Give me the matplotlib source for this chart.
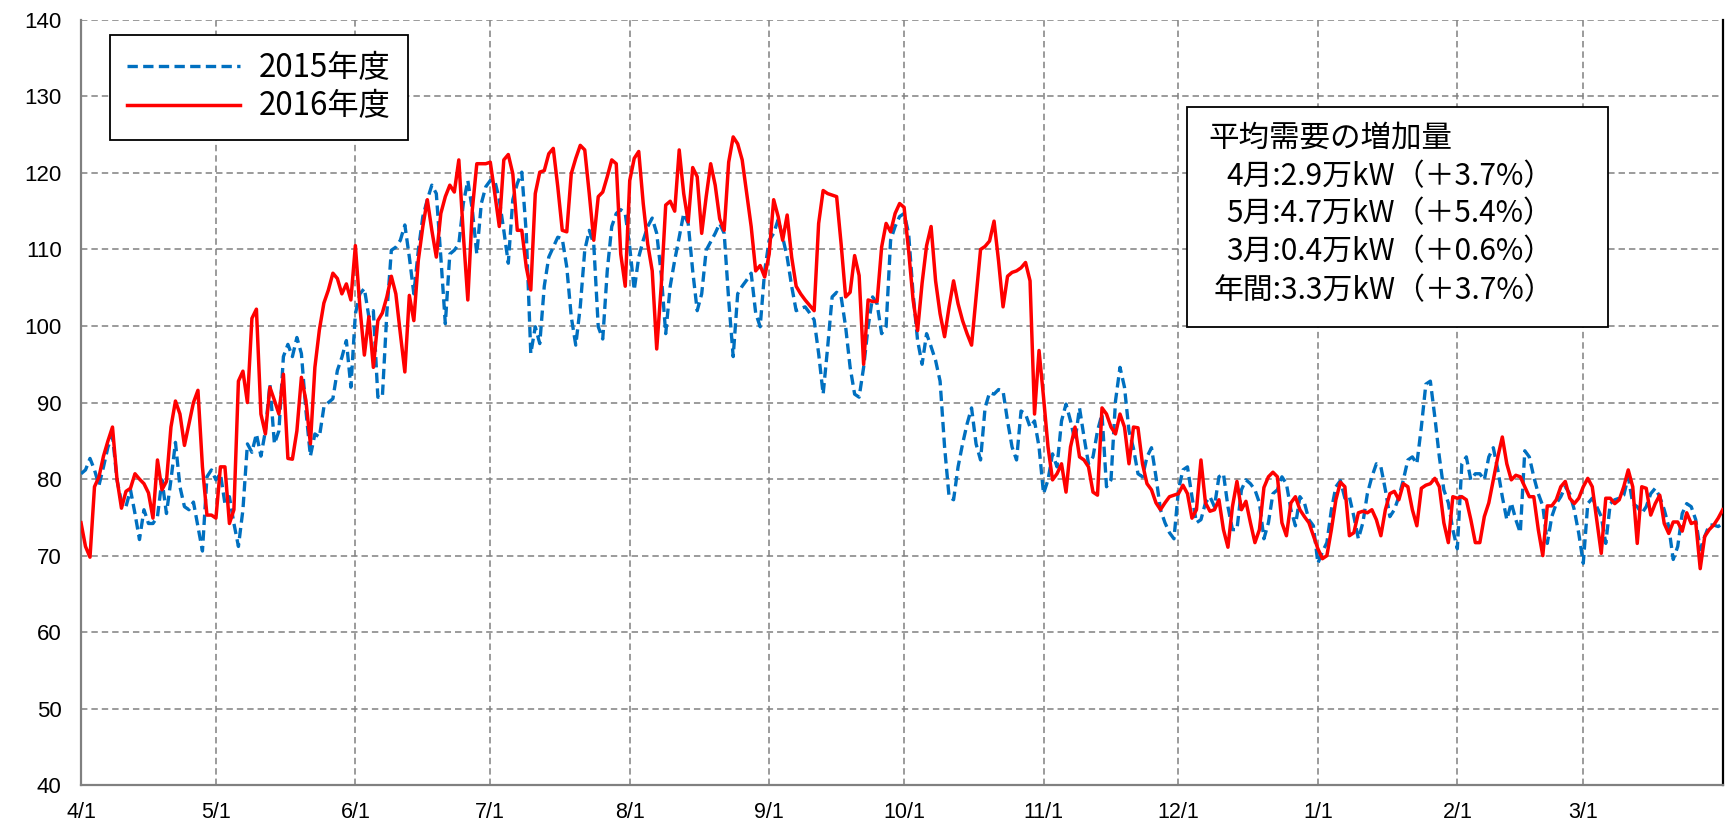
import matplotlib
matplotlib.use("Agg")
import matplotlib.pyplot as plt
from matplotlib.patches import Rectangle
import numpy as np

# ---------------- data ----------------
month_labels = ["4/1", "5/1", "6/1", "7/1", "8/1", "9/1", "10/1", "11/1", "12/1", "1/1", "2/1", "3/1"]
month_start_days = [0, 30, 61, 91, 122, 153, 183, 214, 244, 275, 306, 334]
y_ticks = [40, 50, 60, 70, 80, 90, 100, 110, 120, 130, 140]

series_2015_label = "2015年度"
series_2016_label = "2016年度"

demand_2015 = [
    80.7, 81.2, 82.7, 81.2, 79.2, 81.6, 84.2, 85.7, 79.9, 77.0,
    76.4, 78.6, 75.5, 72.1, 76.0, 74.2, 74.2, 75.1, 79.9, 75.5,
    79.9, 84.8, 79.0, 76.4, 76.0, 77.0, 73.8, 70.6, 80.3, 81.2,
    79.9, 80.7, 76.8, 77.7, 74.2, 71.2, 76.0, 84.6, 83.5, 85.9,
    83.0, 86.3, 92.4, 84.6, 86.3, 96.0, 97.6, 96.0, 98.5, 96.4,
    89.0, 83.0, 85.9, 85.5, 89.4, 90.0, 90.5, 94.2, 95.9, 98.1,
    92.0, 101.6, 104.2, 104.9, 101.2, 102.0, 90.7, 90.7, 101.7, 109.9,
    110.3, 111.2, 113.2, 109.0, 104.2, 109.9, 114.3, 116.5, 118.4, 117.3,
    109.0, 100.3, 109.4, 109.9, 110.7, 116.0, 119.0, 115.2, 109.4, 116.0,
    118.2, 119.0, 119.0, 116.5, 112.5, 108.2, 116.5, 118.6, 120.1, 112.1,
    96.4, 99.9, 97.7, 105.2, 109.0, 110.3, 111.6, 111.4, 107.7, 101.2,
    97.5, 102.5, 109.9, 112.5, 110.7, 99.9, 98.3, 107.2, 113.0, 114.7,
    115.2, 114.7, 110.3, 104.7, 109.0, 111.2, 113.0, 114.1, 112.1, 106.8,
    99.0, 105.2, 108.6, 111.6, 114.7, 113.4, 107.2, 102.0, 104.2, 109.9,
    111.0, 112.1, 113.4, 112.1, 103.4, 96.0, 104.2, 105.2, 106.0, 106.9,
    101.7, 99.9, 107.2, 111.2, 112.1, 113.9, 111.6, 109.0, 105.2, 102.0,
    102.3, 102.5, 101.7, 100.8, 96.4, 91.1, 97.2, 103.8, 104.4, 103.8,
    99.9, 94.6, 91.1, 90.7, 94.6, 99.9, 103.8, 102.9, 99.0, 99.9,
    111.2, 113.0, 114.3, 114.7, 112.1, 104.2, 98.1, 95.0, 99.0, 97.3,
    95.5, 92.8, 84.2, 77.7, 77.3, 81.6, 84.6, 87.2, 89.3, 84.6,
    82.5, 89.3, 91.3, 91.1, 91.7, 91.5, 87.6, 84.2, 82.5, 88.9,
    88.5, 86.8, 87.6, 84.2, 78.1, 79.9, 83.3, 81.6, 87.6, 89.8,
    87.6, 85.0, 89.3, 85.5, 82.0, 82.9, 86.3, 88.5, 79.0, 79.9,
    90.2, 94.6, 92.0, 86.3, 84.0, 80.7, 80.3, 82.9, 84.1, 80.3,
    76.0, 74.3, 73.0, 72.2, 78.6, 81.2, 81.6, 77.7, 74.3, 74.7,
    76.9, 77.7, 76.4, 80.3, 80.7, 76.4, 73.4, 73.4, 78.6, 79.9,
    79.4, 78.6, 76.9, 72.2, 74.3, 78.1, 78.6, 80.3, 79.4, 76.0,
    73.9, 77.7, 76.9, 74.7, 73.9, 69.0, 70.5, 71.7, 76.0, 79.0,
    79.8, 77.5, 77.7, 75.1, 72.2, 74.3, 78.1, 80.3, 82.0, 81.6,
    78.6, 75.1, 76.0, 77.7, 79.9, 82.5, 82.9, 82.0, 86.8, 92.4,
    92.8, 88.1, 82.9, 78.6, 76.9, 73.4, 70.9, 82.0, 82.9, 79.9,
    80.7, 80.7, 79.9, 82.9, 84.1, 81.2, 77.7, 74.7, 76.9, 74.7,
    73.0, 83.7, 82.9, 80.3, 78.1, 76.5, 71.6, 75.1, 76.8, 77.7,
    79.0, 78.1, 76.0, 72.9, 69.0, 76.8, 77.5, 76.4, 75.1, 71.6,
    76.8, 77.3, 77.5, 77.9, 80.3, 76.8, 76.4, 75.5, 76.4, 78.1,
    78.8, 77.7, 76.0, 73.8, 69.5, 71.2, 75.5, 76.8, 76.4, 74.7,
    70.8, 72.5, 74.0, 74.0, 73.8, 74.2,
]

demand_2016 = [
    74.3, 71.2, 69.8, 79.0, 80.3, 83.0, 85.0, 86.8, 80.0, 76.2,
    78.4, 78.8, 80.7, 80.0, 79.4, 78.2, 74.9, 82.5, 78.6, 79.7,
    86.8, 90.2, 88.5, 84.4, 87.2, 90.0, 91.6, 81.6, 75.3, 75.3,
    74.9, 81.6, 81.6, 74.2, 76.0, 92.8, 94.1, 90.0, 101.0, 102.2,
    88.5, 85.9, 92.0, 90.3, 88.5, 93.7, 82.7, 82.6, 86.3, 93.3,
    90.3, 84.6, 94.6, 99.5, 103.0, 104.7, 106.9, 106.2, 104.2, 105.5,
    103.4, 110.5, 102.5, 96.2, 101.2, 94.6, 100.7, 101.7, 103.8, 106.5,
    104.2, 99.0, 94.0, 104.0, 100.7, 108.6, 113.0, 116.5, 112.5, 109.0,
    114.7, 116.9, 118.4, 117.5, 121.7, 112.0, 103.4, 115.2, 121.2, 121.2,
    121.2, 121.4, 117.3, 113.0, 121.7, 122.4, 119.9, 112.5, 112.5, 107.7,
    104.7, 117.3, 120.1, 120.3, 122.5, 123.2, 118.2, 112.5, 112.3, 119.9,
    121.9, 123.6, 123.0, 117.3, 111.2, 116.9, 117.5, 119.5, 121.7, 121.2,
    109.4, 105.2, 119.0, 121.9, 122.8, 116.0, 110.7, 107.2, 97.0, 105.2,
    115.8, 116.3, 115.0, 123.0, 117.3, 113.6, 120.7, 119.5, 112.1, 116.9,
    121.2, 118.4, 114.0, 112.5, 121.4, 124.7, 123.8, 121.7, 117.3, 113.0,
    107.2, 107.9, 106.4, 109.4, 116.5, 114.3, 111.2, 114.5, 109.0, 105.2,
    104.2, 103.4, 102.7, 102.0, 113.4, 117.7, 117.3, 117.1, 116.9, 110.7,
    103.8, 104.4, 109.2, 106.6, 95.0, 103.4, 103.2, 103.2, 110.3, 113.4,
    112.3, 114.7, 116.0, 115.5, 109.9, 103.4, 99.4, 105.6, 110.5, 113.0,
    105.9, 101.6, 98.6, 102.5, 105.9, 102.9, 100.7, 99.0, 97.5, 103.8,
    110.0, 110.4, 111.1, 113.7, 108.5, 102.5, 106.5, 107.0, 107.2, 107.6,
    108.3, 105.9, 88.5, 96.8, 90.7, 84.2, 79.9, 80.7, 82.0, 78.3,
    84.2, 86.8, 82.9, 82.5, 81.6, 78.3, 77.9, 89.3, 88.5, 86.8,
    85.9, 88.5, 86.8, 82.0, 86.8, 86.7, 82.0, 79.4, 78.6, 76.9,
    76.0, 76.9, 77.7, 77.9, 78.1, 79.2, 78.1, 74.9, 76.0, 82.5,
    76.9, 75.8, 76.0, 77.3, 73.4, 71.1, 76.4, 79.7, 76.0, 77.1,
    74.3, 71.7, 73.4, 78.9, 80.3, 80.9, 80.3, 74.3, 72.6, 76.9,
    77.7, 76.0, 75.1, 74.3, 72.6, 70.9, 69.6, 70.0, 73.4, 77.3,
    79.6, 79.0, 72.6, 73.0, 75.6, 75.8, 75.6, 76.0, 74.7, 72.6,
    76.0, 78.1, 78.4, 77.3, 79.4, 79.0, 76.0, 73.9, 78.8, 79.2,
    79.4, 80.1, 79.0, 74.3, 71.7, 77.7, 77.5, 77.7, 77.3, 74.7,
    71.7, 71.7, 75.1, 76.9, 79.9, 82.9, 85.5, 82.0, 79.9, 80.5,
    80.3, 79.0, 77.7, 77.7, 73.4, 70.0, 76.5, 76.5, 77.3, 79.0,
    79.7, 77.5, 76.8, 77.5, 79.0, 80.1, 79.0, 74.7, 70.3, 77.5,
    77.5, 76.8, 77.3, 79.0, 81.2, 79.0, 71.6, 79.0, 78.8, 75.3,
    76.8, 77.9, 74.2, 72.9, 74.4, 74.4, 73.2, 75.6, 74.2, 74.4,
    68.3, 72.5, 73.4, 74.0, 74.9, 76.0,
]

box_title = "平均需要の増加量"
box_lines = ["4月:2.9万kW（＋3.7%）",
             "5月:4.7万kW（＋5.4%）",
             "3月:0.4万kW（＋0.6%）",
             "年間:3.3万kW（＋3.7%）"]

# ---------------- figure ----------------
W, H = 1727, 827
plt.rcParams['font.family'] = ['Liberation Sans', 'Noto Sans CJK JP', 'DejaVu Sans']
CJK = ['Noto Sans CJK JP', 'DejaVu Sans']

fig = plt.figure(figsize=(W / 100, H / 100), dpi=100)
ax_l, ax_r, ax_t, ax_b = 81, 1722.7, 19.8, 785.3
ax = fig.add_axes([ax_l / W, 1 - ax_b / H, (ax_r - ax_l) / W, (ax_b - ax_t) / H])

days_2015 = np.arange(len(demand_2015))
days_2016 = np.arange(len(demand_2016))

ax.plot(days_2015, demand_2015, color='#0070C0', lw=2.4,
        linestyle=(0, (3.1, 1.6)), label=series_2015_label, zorder=3)
ax.plot(days_2016, demand_2016, color='#FF0000', lw=2.5,
        label=series_2016_label, zorder=4)

ax.set_xlim(0, 365)
ax.set_ylim(40, 140)
ax.set_xticks(month_start_days)
ax.set_xticklabels(month_labels)
ax.set_yticks(y_ticks)
ax.tick_params(axis='both', length=0)
ax.tick_params(axis='y', labelsize=16, pad=14)
ax.tick_params(axis='x', labelsize=15.5, pad=12)

ax.grid(True, color='#808080', linestyle=(0, (4.2, 2.6)), lw=1.1, zorder=1)
ax.set_axisbelow(True)

for side in ['left', 'bottom']:
    ax.spines[side].set_color('#808080')
    ax.spines[side].set_linewidth(1.6)
ax.spines['top'].set_visible(False)
ax.spines['right'].set_color('#000000')
ax.spines['right'].set_linewidth(1.6)

leg = ax.legend(loc='upper left',
                bbox_to_anchor=((110 - ax_l) / (ax_r - ax_l), 1 - (35 - ax_t) / (ax_b - ax_t)),
                borderaxespad=0, frameon=True, fancybox=False, framealpha=1,
                edgecolor='black', prop={'family': CJK, 'size': 22.5},
                handlelength=3.6, handletextpad=0.6, borderpad=0.55, labelspacing=0.2)
leg.get_frame().set_linewidth(1.3)

# text box
bx0, by0, bx1, by1 = 1187, 107, 1608, 327
fig.add_artist(Rectangle((bx0 / W, 1 - by1 / H), (bx1 - bx0) / W, (by1 - by0) / H,
                         transform=fig.transFigure, facecolor='white',
                         edgecolor='black', lw=1.3, zorder=5))
fig.text(1208 / W, 1 - 138 / H, box_title, family=CJK, fontsize=22,
         ha='left', va='center', zorder=6)
line_x = [1226, 1226, 1226, 1214]
line_y = [177, 214, 252, 291]
for s, lx, ly in zip(box_lines, line_x, line_y):
    fig.text(lx / W, 1 - ly / H, s, family=CJK, fontsize=21.5,
             ha='left', va='center', zorder=6)

fig.savefig('out.png', dpi=100)
